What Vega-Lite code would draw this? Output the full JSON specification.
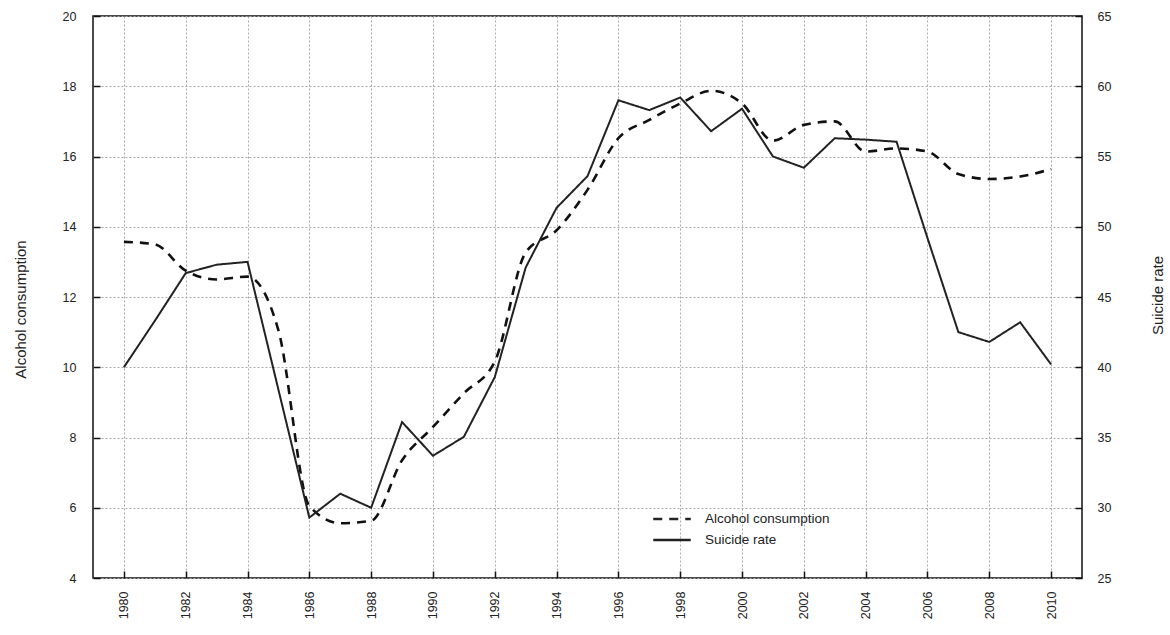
{
  "$schema": "https://vega.github.io/schema/vega-lite/v6.json",
  "width": 989,
  "height": 562,
  "autosize": {"type": "none"},
  "padding": {"left": 93, "top": 16, "right": 88, "bottom": 57},
  "background": "white",
  "config": {
    "view": {"stroke": "#111", "strokeWidth": 1.5},
    "axis": {
      "labelFont": "Liberation Sans",
      "titleFont": "Liberation Sans",
      "labelFontSize": 12.5,
      "titleFontSize": 15,
      "titleFontWeight": "normal",
      "labelColor": "#222",
      "titleColor": "#222",
      "domain": false,
      "tickColor": "#111",
      "tickSize": -7,
      "tickWidth": 1.5,
      "gridColor": "#a8a8a8",
      "gridDash": [2, 2],
      "gridWidth": 1
    }
  },
  "data": {
    "values": [
      {"year": 1980, "series": "Alcohol consumption", "value": 13.57},
      {"year": 1981, "series": "Alcohol consumption", "value": 13.5},
      {"year": 1982, "series": "Alcohol consumption", "value": 12.75},
      {"year": 1983, "series": "Alcohol consumption", "value": 12.5},
      {"year": 1984, "series": "Alcohol consumption", "value": 12.58},
      {"year": 1985, "series": "Alcohol consumption", "value": 11.05},
      {"year": 1986, "series": "Alcohol consumption", "value": 6.05},
      {"year": 1987, "series": "Alcohol consumption", "value": 5.56},
      {"year": 1988, "series": "Alcohol consumption", "value": 5.63},
      {"year": 1989, "series": "Alcohol consumption", "value": 7.35},
      {"year": 1990, "series": "Alcohol consumption", "value": 8.3},
      {"year": 1991, "series": "Alcohol consumption", "value": 9.26},
      {"year": 1992, "series": "Alcohol consumption", "value": 10.16},
      {"year": 1993, "series": "Alcohol consumption", "value": 13.27},
      {"year": 1994, "series": "Alcohol consumption", "value": 13.9},
      {"year": 1995, "series": "Alcohol consumption", "value": 15.05},
      {"year": 1996, "series": "Alcohol consumption", "value": 16.52},
      {"year": 1997, "series": "Alcohol consumption", "value": 17.04},
      {"year": 1998, "series": "Alcohol consumption", "value": 17.51},
      {"year": 1999, "series": "Alcohol consumption", "value": 17.87},
      {"year": 2000, "series": "Alcohol consumption", "value": 17.51},
      {"year": 2001, "series": "Alcohol consumption", "value": 16.45},
      {"year": 2002, "series": "Alcohol consumption", "value": 16.9},
      {"year": 2003, "series": "Alcohol consumption", "value": 17.0},
      {"year": 2004, "series": "Alcohol consumption", "value": 16.14},
      {"year": 2005, "series": "Alcohol consumption", "value": 16.23},
      {"year": 2006, "series": "Alcohol consumption", "value": 16.14},
      {"year": 2007, "series": "Alcohol consumption", "value": 15.5},
      {"year": 2008, "series": "Alcohol consumption", "value": 15.36},
      {"year": 2009, "series": "Alcohol consumption", "value": 15.43},
      {"year": 2010, "series": "Alcohol consumption", "value": 15.64},
      {"year": 1980, "series": "Suicide rate", "value": 40.0},
      {"year": 1981, "series": "Suicide rate", "value": 43.3},
      {"year": 1982, "series": "Suicide rate", "value": 46.7},
      {"year": 1983, "series": "Suicide rate", "value": 47.3},
      {"year": 1984, "series": "Suicide rate", "value": 47.5},
      {"year": 1985, "series": "Suicide rate", "value": 38.4},
      {"year": 1986, "series": "Suicide rate", "value": 29.3},
      {"year": 1987, "series": "Suicide rate", "value": 31.0},
      {"year": 1988, "series": "Suicide rate", "value": 30.0},
      {"year": 1989, "series": "Suicide rate", "value": 36.1},
      {"year": 1990, "series": "Suicide rate", "value": 33.7},
      {"year": 1991, "series": "Suicide rate", "value": 35.05},
      {"year": 1992, "series": "Suicide rate", "value": 39.3},
      {"year": 1993, "series": "Suicide rate", "value": 47.1},
      {"year": 1994, "series": "Suicide rate", "value": 51.35},
      {"year": 1995, "series": "Suicide rate", "value": 53.6},
      {"year": 1996, "series": "Suicide rate", "value": 59.0},
      {"year": 1997, "series": "Suicide rate", "value": 58.3},
      {"year": 1998, "series": "Suicide rate", "value": 59.2},
      {"year": 1999, "series": "Suicide rate", "value": 56.8},
      {"year": 2000, "series": "Suicide rate", "value": 58.4},
      {"year": 2001, "series": "Suicide rate", "value": 55.0},
      {"year": 2002, "series": "Suicide rate", "value": 54.2},
      {"year": 2003, "series": "Suicide rate", "value": 56.3},
      {"year": 2004, "series": "Suicide rate", "value": 56.2},
      {"year": 2005, "series": "Suicide rate", "value": 56.05},
      {"year": 2006, "series": "Suicide rate", "value": 49.2},
      {"year": 2007, "series": "Suicide rate", "value": 42.5},
      {"year": 2008, "series": "Suicide rate", "value": 41.8},
      {"year": 2009, "series": "Suicide rate", "value": 43.2},
      {"year": 2010, "series": "Suicide rate", "value": 40.2}
    ]
  },
  "layer": [
    {
      "transform": [{"filter": "datum.series === 'Alcohol consumption'"}],
      "mark": {"type": "line", "color": "#111", "strokeWidth": 2.6, "interpolate": "monotone"},
      "encoding": {
        "x": {
          "field": "year",
          "type": "quantitative",
          "scale": {"domain": [1979, 2011], "nice": false, "zero": false},
          "axis": {
            "values": [1980, 1982, 1984, 1986, 1988, 1990, 1992, 1994, 1996, 1998, 2000, 2002, 2004, 2006, 2008, 2010],
            "format": "d",
            "labelAngle": -90,
            "labelPadding": 20,
            "title": null
          }
        },
        "y": {
          "field": "value",
          "type": "quantitative",
          "scale": {"domain": [4, 20], "nice": false, "zero": false},
          "axis": {
            "orient": "left",
            "values": [4, 6, 8, 10, 12, 14, 16, 18, 20],
            "labelPadding": 24,
            "title": "Alcohol consumption",
            "titleAngle": -90,
            "titleX": -73,
            "titleY": 293,
            "titleAlign": "center",
            "titleBaseline": "middle"
          }
        },
        "strokeDash": {
          "field": "series",
          "type": "nominal",
          "scale": {"domain": ["Alcohol consumption", "Suicide rate"], "range": [[9, 7], [1, 0]]},
          "legend": {
            "orient": "none",
            "legendX": 565,
            "legendY": 489,
            "title": null,
            "padding": 0,
            "symbolType": "M-1.5,0H1.5",
            "symbolSize": 625,
            "symbolStrokeColor": "#111",
            "symbolStrokeWidth": 2.6,
            "symbolFillColor": "transparent",
            "labelFont": "Liberation Sans",
            "labelFontSize": 13.5,
            "labelColor": "#222",
            "labelOffset": 19,
            "rowPadding": 0
          }
        }
      }
    },
    {
      "transform": [{"filter": "datum.series === 'Suicide rate'"}],
      "mark": {"type": "line", "color": "#222", "strokeWidth": 2},
      "encoding": {
        "x": {"field": "year", "type": "quantitative"},
        "y": {
          "field": "value",
          "type": "quantitative",
          "scale": {"domain": [25, 65], "nice": false, "zero": false},
          "axis": {
            "orient": "right",
            "values": [25, 30, 35, 40, 45, 50, 55, 60, 65],
            "grid": false,
            "labelPadding": 22,
            "title": "Suicide rate",
            "titleAngle": -90,
            "titleX": 75,
            "titleY": 279,
            "titleAlign": "center",
            "titleBaseline": "middle"
          }
        },
        "strokeDash": {"field": "series", "type": "nominal"}
      }
    }
  ],
  "resolve": {"scale": {"y": "independent"}}
}
